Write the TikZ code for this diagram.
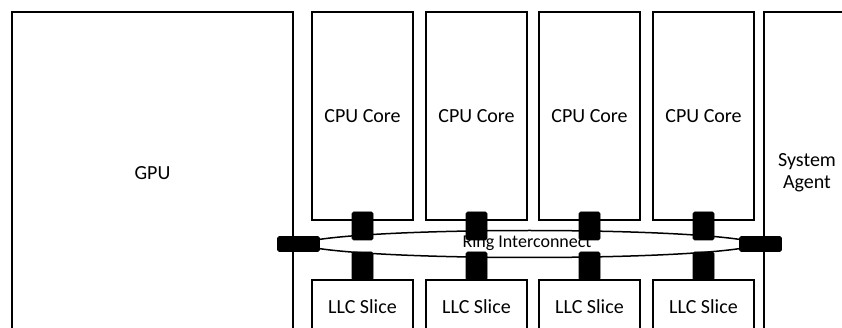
\documentclass[tikz,border=0pt]{standalone}
\usepackage{fontspec}
\setmainfont{Carlito}
\usetikzlibrary{positioning}

\tikzset{
  block/.style={draw, line width=1.9pt, fill=white, inner sep=0pt, align=center,
    font=\fontsize{20}{22}\selectfont},
  port/.style={draw, fill=black, line width=0.6pt, rounded corners=1.5pt, inner sep=0pt,
    minimum width=21pt, minimum height=28pt},
  ringport/.style={port, minimum width=42pt, minimum height=15pt},
  ringline/.style={line width=1.5pt}
}

\begin{document}
\begin{tikzpicture}[x=1pt,y=-1pt]
\useasboundingbox (0,0) rectangle (842,328);
\clip (0,0) rectangle (842,328);
% big blocks
\node[block, minimum width=281pt, minimum height=322pt] (gpu) at (152.5,173) {GPU};
\node[block, minimum width=86pt, minimum height=322pt] (sa) at (807,173) {System\\Agent};
% cores
\node[block, minimum width=101pt, minimum height=208pt] (core1) at (362.5,116) {CPU Core};
\node[block, minimum width=101pt, minimum height=208pt] (core2) at (476.5,116) {CPU Core};
\node[block, minimum width=101pt, minimum height=208pt] (core3) at (589.5,116) {CPU Core};
\node[block, minimum width=101pt, minimum height=208pt] (core4) at (703.5,116) {CPU Core};
% cache slices
\node[block, minimum width=101pt, minimum height=54pt] (llc1) at (362.5,307) {LLC Slice};
\node[block, minimum width=101pt, minimum height=54pt] (llc2) at (476.5,307) {LLC Slice};
\node[block, minimum width=101pt, minimum height=54pt] (llc3) at (589.5,307) {LLC Slice};
\node[block, minimum width=101pt, minimum height=54pt] (llc4) at (703.5,307) {LLC Slice};
% ring
\coordinate (lring) at (298.5,244);
\coordinate (rring) at (760.5,244);
\draw[ringline] (lring) .. controls +(45,-18) and +(-45,-18) .. (rring);
\draw[ringline] (lring) .. controls +(45,18) and +(-45,18) .. (rring);
\node[font=\fontsize{18}{20}\selectfont] (ringlbl) at (527,243) {Ring Interconnect};
% ring stops
\node[ringport] (lport) at (lring) {};
\node[ringport] (rport) at (rring) {};
\node[port] (cup1) at (362.5,226) {};
\node[port] (cup2) at (476.5,226) {};
\node[port] (cup3) at (589.5,226) {};
\node[port] (cup4) at (703.5,226) {};
\node[port] (cdn1) at (362.5,266) {};
\node[port] (cdn2) at (476.5,266) {};
\node[port] (cdn3) at (589.5,266) {};
\node[port] (cdn4) at (703.5,266) {};
\end{tikzpicture}
\end{document}
